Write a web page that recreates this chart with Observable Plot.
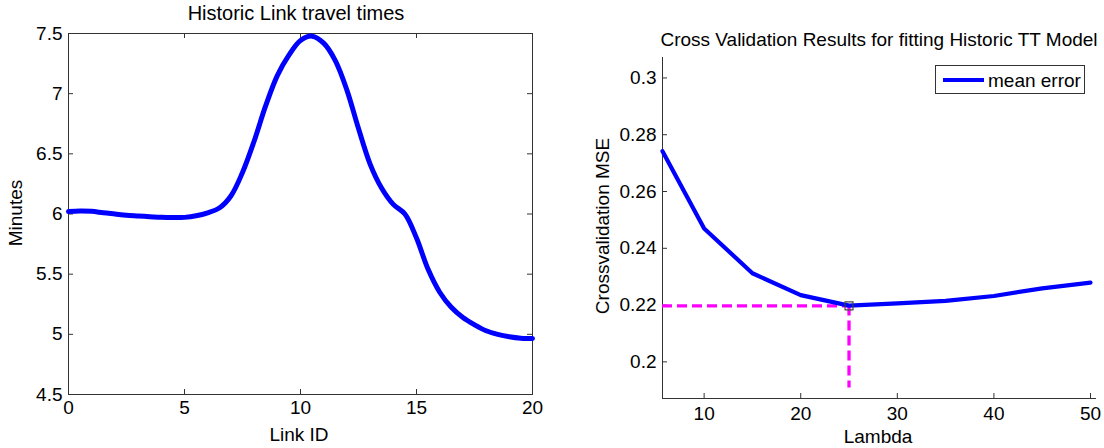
<!DOCTYPE html>
<html>
<head>
<meta charset="utf-8">
<script src="https://cdn.jsdelivr.net/npm/d3@7"></script>
<script src="https://cdn.jsdelivr.net/npm/@observablehq/plot@0.6"></script>
<style>
  body { margin: 0; background: #fff; }
  #c { position: relative; width: 1104px; height: 448px; overflow: hidden;
       font-family: Arial, "Liberation Sans", Helvetica, sans-serif; color: #000; background: #fff; }
  #c svg { position: absolute; top: 0; overflow: visible; }
  .t { position: absolute; white-space: nowrap; font-size: 19px; line-height: 1; }
</style>
</head>
<body>
<div id="c"></div>
<script>
// ---- Left panel data: Historic link travel times ----
const linkId = [0, 0.5, 1, 1.5, 2, 2.5, 3, 3.5, 4, 4.5, 5, 5.5, 6, 6.5, 7, 7.5, 8, 8.5, 9, 9.5,
                10, 10.5, 11, 11.5, 12, 12.5, 13, 13.5, 14, 14.5, 15, 15.5, 16, 16.5, 17, 17.5, 18, 18.5, 19, 19.5, 20];
const minutes = [6.02, 6.025, 6.022, 6.01, 6.0, 5.99, 5.984, 5.978, 5.972, 5.97, 5.972, 5.985, 6.01, 6.05, 6.15, 6.345, 6.605, 6.9, 7.15, 7.32,
                 7.442, 7.478, 7.42, 7.275, 7.03, 6.71, 6.415, 6.214, 6.08, 6.0, 5.8, 5.54, 5.35, 5.225, 5.14, 5.08, 5.03, 5.0, 4.98, 4.968, 4.965];
const xTicksLeft = [0, 5, 10, 15, 20];
const yTicksLeft = [4.5, 5, 5.5, 6, 6.5, 7, 7.5];

// ---- Right panel data: cross validation ----
const lambda = [5.69, 10, 15, 20, 25, 30, 35, 40, 45, 50];
const meanError = [0.2742, 0.2470, 0.2312, 0.2235, 0.2198, 0.2206, 0.2215, 0.2232, 0.2259, 0.2279];
const xTicksRight = [10, 20, 30, 40, 50];
const yTicksRight = [0.2, 0.22, 0.24, 0.26, 0.28, 0.3];
const bestLambda = 25;
const bestError = 0.2197;
const guideBottom = 0.1908;
const lambdaDomain = [5.69, 50];
const errorDomain = [0.1871, 0.3072];

const font = 'Arial, "Liberation Sans", Helvetica, sans-serif';
const c = document.getElementById("c");

// Left plot
const LW = 560, LH = 448, LmL = 68, LmR = 28, LmT = 33, LmB = 54;
const LiW = LW - LmL - LmR, LiH = LH - LmT - LmB;
const leftRows = linkId.map((x, i) => ({x, y: minutes[i]}));
const left = Plot.plot({
  width: LW, height: LH,
  marginLeft: LmL, marginRight: LmR, marginTop: LmT, marginBottom: LmB,
  style: {fontFamily: font, fontSize: "19px", color: "#000", background: "transparent"},
  x: {domain: [0, 20]},
  y: {domain: [4.5, 7.5]},
  marks: [
    Plot.axisX(xTicksLeft, {tickSize: 0, tickPadding: 6, fontSize: 19, label: null, tickFormat: d => String(d)}),
    Plot.axisY(yTicksLeft, {tickSize: 0, tickPadding: 6, fontSize: 19, label: null, tickFormat: d => String(d)}),
    Plot.tickX(xTicksLeft, {x: d => d, insetTop: LiH - 5, stroke: "#333"}),
    Plot.tickX(xTicksLeft, {x: d => d, insetBottom: LiH - 5, stroke: "#333"}),
    Plot.tickY(yTicksLeft, {y: d => d, insetRight: LiW - 5, stroke: "#333"}),
    Plot.tickY(yTicksLeft, {y: d => d, insetLeft: LiW - 5, stroke: "#333"}),
    Plot.frame({stroke: "#333"}),
    Plot.line(leftRows, {x: "x", y: "y", stroke: "#0000ff", strokeWidth: 5, curve: "catmull-rom"})
  ]
});
left.style.left = "0px";
c.appendChild(left);

// Right plot
const RW = 544, RH = 448, RmL = 102, RmR = 14, RmT = 57, RmB = 50;
const RiW = RW - RmL - RmR, RiH = RH - RmT - RmB;
const rightRows = lambda.map((x, i) => ({x, y: meanError[i]}));
const right = Plot.plot({
  width: RW, height: RH,
  marginLeft: RmL, marginRight: RmR, marginTop: RmT, marginBottom: RmB,
  style: {fontFamily: font, fontSize: "19px", color: "#000", background: "transparent"},
  x: {domain: lambdaDomain},
  y: {domain: errorDomain},
  marks: [
    Plot.axisX(xTicksRight, {tickSize: 0, tickPadding: 8, fontSize: 19, label: null, tickFormat: d => String(d)}),
    Plot.axisY(yTicksRight, {tickSize: 0, tickPadding: 6, fontSize: 19, label: null, tickFormat: d => String(d)}),
    Plot.tickX(xTicksRight, {x: d => d, insetTop: RiH - 5, stroke: "#333"}),
    Plot.tickY(yTicksRight, {y: d => d, insetRight: RiW - 5, stroke: "#333"}),
    Plot.ruleX([lambdaDomain[0]], {stroke: "#333"}),
    Plot.ruleY([errorDomain[0]], {stroke: "#333", insetRight: -6}),
    Plot.ruleY([bestError], {x1: lambdaDomain[0], x2: bestLambda, stroke: "#ff00ff", strokeWidth: 3.3, strokeDasharray: "10,5"}),
    Plot.ruleX([bestLambda], {y1: bestError, y2: guideBottom, stroke: "#ff00ff", strokeWidth: 3.3, strokeDasharray: "10,5"}),
    Plot.line(rightRows, {x: "x", y: "y", stroke: "#0000ff", strokeWidth: 4.2}),
    Plot.dot([{x: bestLambda, y: bestError}], {x: "x", y: "y", symbol: "square", r: 4.5, stroke: "#444", strokeWidth: 1.2, fill: "none"})
  ]
});
right.style.left = "560px";
c.appendChild(right);

// Text overlays
function addText(txt, x, baseline, opts = {}) {
  const d = document.createElement("div");
  d.className = "t";
  d.textContent = txt;
  if (opts.size) d.style.fontSize = opts.size + "px";
  d.style.left = x + "px";
  d.style.top = (baseline - 15) + "px";
  d.style.transform = "translateX(-50%)";
  if (opts.rotate) {
    d.style.transformOrigin = "0 0";
    d.style.left = x + "px";
    d.style.top = baseline + "px";
    d.style.transform = "rotate(-90deg) translate(-50%, 0)";
  }
  c.appendChild(d);
  return d;
}
addText("Historic Link travel times", 296, 18, {size: 20});
addText("Link ID", 299, 440);
addText("Cross Validation Results for fitting Historic TT Model", 879, 45);
addText("Lambda", 878, 442);
// rotated y labels: x = left of glyph tops, y = vertical center
addText("Minutes", 6, 213, {rotate: true});
addText("Crossvalidation MSE", 593, 226, {rotate: true});

// Legend
const lg = document.createElement("div");
lg.style.cssText = "position:absolute;left:935px;top:65px;width:150px;height:29px;border:1px solid #333;background:#fff;box-sizing:border-box;";
const seg = document.createElement("div");
seg.style.cssText = "position:absolute;left:7px;top:12px;width:41px;height:4px;background:#0000ff;";
lg.appendChild(seg);
const lt = document.createElement("div");
lt.textContent = "mean error";
lt.style.cssText = "position:absolute;left:52px;top:5px;font-size:19px;line-height:1;white-space:nowrap;";
lg.appendChild(lt);
c.appendChild(lg);
</script>
</body>
</html>
